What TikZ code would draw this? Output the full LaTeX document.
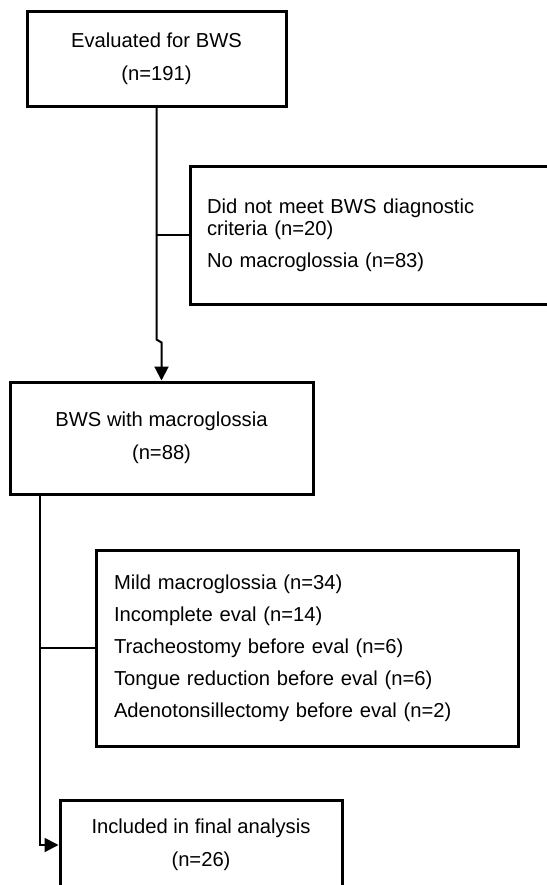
\documentclass[tikz,border=0pt]{standalone}
\usepackage{fontspec}
\setmainfont{Liberation Sans}
\usetikzlibrary{positioning, arrows.meta, calc}
\tikzset{>={Triangle[length=7pt,width=7pt]}}

\begin{document}
\begin{tikzpicture}[x=0.5pt,y=-0.5pt,
    stagebox/.style={draw, line width=1.5pt, align=center, inner sep=0pt,
      font=\fontsize{10.1}{16.5}\selectfont},
    exclbox/.style={draw, line width=1.5pt, align=left, inner ysep=0pt},
    link/.style={line width=1pt}]
\clip (0,0) rectangle (547,885);
% main flow
\node[stagebox, minimum width=129.5pt, minimum height=47.5pt] (evaluated) at (156.5,58.5)
  {Evaluated for BWS\\(n=191)};
\node[stagebox, minimum width=151.5pt, minimum height=56pt] (withmacro) at (161.5,438)
  {BWS with macroglossia\\(n=88)};
\node[stagebox, minimum width=141pt, minimum height=45pt] (final) at (201,845)
  {Included in final analysis\\(n=26)};
% exclusions
\node[exclbox, minimum width=181pt, minimum height=69pt, inner xsep=8.5pt,
  text width=164pt, font=\fontsize{10.1}{11}\selectfont] (notmet) at (371,235)
  {Did not meet BWS diagnostic\\criteria (n=20)\\[5pt]No macroglossia (n=83)};
\node[exclbox, minimum width=211pt, minimum height=98pt, inner xsep=9pt,
  text width=193pt, font=\fontsize{10.1}{16}\selectfont] (excluded) at (307,648)
  {Mild macroglossia (n=34)\\Incomplete eval (n=14)\\Tracheostomy before eval (n=6)\\
   Tongue reduction before eval (n=6)\\Adenotonsillectomy before eval (n=2)};
% connectors
\draw[link,->] (evaluated.south) -- ([yshift=20.5pt]withmacro.north -| evaluated.south)
  -- ([yshift=19pt]withmacro.north) -- (withmacro.north);
\draw[link] (notmet.west) -- (notmet.west -| evaluated.south);
\coordinate (stem) at ([xshift=15.5pt]withmacro.south west);
\draw[link,->] (stem) |- (final.west);
\draw[link] (excluded.west) -- (excluded.west -| stem);
\end{tikzpicture}
\end{document}
